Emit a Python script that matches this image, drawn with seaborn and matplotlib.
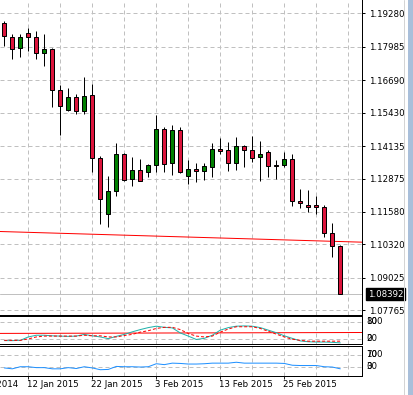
import numpy as np
import pandas as pd
import matplotlib
matplotlib.use("Agg")
import matplotlib.pyplot as plt
import matplotlib.transforms as mtransforms
from matplotlib.patches import Rectangle
from matplotlib.lines import Line2D
import seaborn as sns

# ---------------- data (EUR/USD daily) ----------------
bar_index = list(range(43))
opens = [1.18892, 1.18373, 1.17923, 1.18505, 1.18349, 1.17729, 1.17884, 1.16295, 1.15519, 1.16023,
         1.15480, 1.16101, 1.13658, 1.11487, 1.12379, 1.13825, 1.12844, 1.13193, 1.13115, 1.13387,
         1.14782, 1.13464, 1.14744, 1.12960, 1.13232, 1.13185, 1.13340, 1.14007, 1.13968, 1.13487,
         1.14123, 1.13968, 1.13697, 1.13891, 1.13387, 1.13387, 1.13619, 1.12014, 1.11836, 1.11836,
         1.11758, 1.10750, 1.10246]
highs = [1.18981, 1.18477, 1.18466, 1.18698, 1.18594, 1.18489, 1.17923, 1.16500, 1.16384, 1.16140,
         1.16810, 1.16539, 1.13747, 1.12972, 1.14263, 1.13864, 1.13709, 1.13631, 1.13437, 1.15337,
         1.14872, 1.14949, 1.14872, 1.13581, 1.13476, 1.13464, 1.14251, 1.14445, 1.14278, 1.14484,
         1.14174, 1.14523, 1.14329, 1.13968, 1.13581, 1.13891, 1.13813, 1.12456, 1.12429, 1.12196,
         1.11847, 1.11150, 1.10297]
lows = [1.18012, 1.17508, 1.17597, 1.17830, 1.17508, 1.17248, 1.15659, 1.14573, 1.15492, 1.15387,
        1.15387, 1.13139, 1.11130, 1.10994, 1.12208, 1.12759, 1.12596, 1.12759, 1.12921, 1.13115,
        1.13146, 1.13018, 1.13088, 1.12681, 1.12720, 1.12805, 1.12952, 1.13813, 1.13177, 1.13216,
        1.13332, 1.13526, 1.12790, 1.12945, 1.12867, 1.13321, 1.11820, 1.11743, 1.11588, 1.11510,
        1.10595, 1.09843, 1.08388]
closes = [1.18400, 1.17884, 1.18349, 1.18349, 1.17729, 1.17884, 1.16295, 1.15674, 1.16023, 1.15480,
          1.16062, 1.13658, 1.12068, 1.12390, 1.13825, 1.12817, 1.13193, 1.12797, 1.13387, 1.14782,
          1.13425, 1.14744, 1.13115, 1.13232, 1.13177, 1.13348, 1.14007, 1.13929, 1.13487, 1.14123,
          1.13968, 1.13658, 1.13813, 1.13348, 1.13348, 1.13619, 1.11991, 1.11937, 1.11782, 1.11758,
          1.10750, 1.10246, 1.08392]
current_price = 1.08392
current_price_label = "1.08392"

# red trendline on price chart (two anchor points: bar, price)
trend_bars = [0, 42]
trend_prices = [1.10815, 1.10431]

price_ticks = [1.19280, 1.17985, 1.16690, 1.15430, 1.14135, 1.12875, 1.11580, 1.10320, 1.09025, 1.07765]
price_tick_labels = ["1.19280", "1.17985", "1.16690", "1.15430", "1.14135",
                     "1.12875", "1.11580", "1.10320", "1.09025", "1.07765"]

# stochastic oscillator panel
stoch_main = [13, 13, 14, 26, 32, 32, 30, 29, 28, 29, 35, 30, 26, 20, 28, 35, 44, 52, 59, 64,
              60, 58, 40, 29, 17, 21, 32, 50, 59, 64, 65, 64, 59, 50, 41, 30, 21, 12, 9, 8,
              8, 7, 5]
stoch_signal = [14, 14, 14, 19, 26, 29, 29, 29, 29, 29, 32, 30, 30, 26, 26, 31, 35, 43, 48, 56,
                60, 60, 52, 38, 29, 26, 29, 43, 54, 62, 62, 62, 56, 46, 36, 26, 18, 14, 11, 11,
                11, 11, 11]
stoch_line_bars = [0, 42]
stoch_line_values = [38.5, 41.5]
stoch_levels = [80, 20]
stoch_label_values = [80, 80, 20, 20]
stoch_labels = ["100", "80", "20", "0"]

# RSI panel
rsi_values = [26, 23, 30, 30, 27, 27, 23, 23, 27, 24, 30, 26, 20, 21, 31, 30, 30, 29, 30, 40,
              37, 42, 41, 39, 39, 40, 42, 42, 42, 45, 42, 42, 42, 42, 42, 41, 35, 34, 34, 34,
              30, 29, 23]
rsi_levels = [70, 30]
rsi_label_values = [70, 70, 30, 30]
rsi_labels = ["100", "70", "30", "0"]

# time axis
grid_bars = [-1, 3, 7, 11, 15, 19, 23, 27, 31, 35, 39, 43]
date_bars = [-5, 3, 11, 19, 27, 35]
date_labels = ["31 Dec 2014", "12 Jan 2015", "22 Jan 2015", "3 Feb 2015", "13 Feb 2015", "25 Feb 2015"]

# ---------------- styling ----------------
sns.set_style("white")
plt.rcParams["font.family"] = ["DejaVu Sans"]
plt.rcParams["font.size"] = 6.2

W, H = 414, 395
fig = plt.figure(figsize=(W / 100, H / 100), dpi=100)
fig.patch.set_facecolor("white")


def rect(x0, y0, x1, y1):
    return [x0 / W, (H - y1) / H, (x1 - x0) / W, (y1 - y0) / H]


ax = fig.add_axes(rect(0, 0, 362.5, 314.5))
ax1 = fig.add_axes(rect(0, 316, 362.5, 344.3))
ax2 = fig.add_axes(rect(0, 345.8, 362.5, 375.7))

LW = 0.72
GRID = dict(color="#C0C0C0", lw=LW, ls=(0, (4, 3)))
XLIM = (-0.5375, 44.775)

# ---------------- price panel ----------------
df = pd.DataFrame(dict(bar=bar_index, open=opens, high=highs, low=lows, close=closes))
up = df["close"] > df["open"]
body_colors = np.where(up, "#008000", "#DC143C")
ax.vlines(df["bar"], df["low"], df["high"], color="black", lw=LW, zorder=3)
ax.bar(df["bar"], (df["close"] - df["open"]).abs(), bottom=np.minimum(df["open"], df["close"]),
       width=0.5, color=body_colors, edgecolor="black", linewidth=LW, zorder=4)
ax.axhline(current_price, color="#C0C0C0", lw=LW, zorder=2)
ax.axline((trend_bars[0], trend_prices[0]), (trend_bars[1], trend_prices[1]), color="red", lw=LW, zorder=2)

ax.set_ylim(1.07602, 1.19796)
ax.set_yticks(price_ticks)
ax.set_yticklabels(price_tick_labels)
ax.annotate(current_price_label, xy=(1, current_price), xycoords=("axes fraction", "data"),
            xytext=(5.5, 0), textcoords="offset pixels", ha="left", va="center", color="white",
            fontsize=6.2, annotation_clip=False,
            bbox=dict(boxstyle="square,pad=0.18", fc="black", ec="black"))

# ---------------- stochastic panel ----------------
sns.lineplot(x=bar_index, y=stoch_main, ax=ax1, color="#20B2AA", lw=LW, zorder=3)
sns.lineplot(x=bar_index, y=stoch_signal, ax=ax1, color="red", lw=LW, ls=(0, (3, 2)), zorder=3)
ax1.axline((stoch_line_bars[0], stoch_line_values[0]), (stoch_line_bars[1], stoch_line_values[1]),
           color="red", lw=LW, zorder=2)
ax1.set_ylim(0, 100)
ax1.set_yticks(stoch_levels)
ax1.set_yticklabels([])

# ---------------- RSI panel ----------------
sns.lineplot(x=bar_index, y=rsi_values, ax=ax2, color="#1E90FF", lw=LW, zorder=3)
ax2.set_ylim(0, 100)
ax2.set_yticks(rsi_levels)
ax2.set_yticklabels([])

# overlapping scale labels of the indicator windows
for a, vals, labs in ((ax1, stoch_label_values, stoch_labels), (ax2, rsi_label_values, rsi_labels)):
    tr = mtransforms.offset_copy(mtransforms.blended_transform_factory(a.transAxes, a.transData),
                                 fig=fig, x=3.5, y=0, units="dots")
    for v, lab in zip(vals, labs):
        a.text(1, v, lab, transform=tr, ha="left", va="center", fontsize=6.2, color="black",
               clip_on=False)

# ---------------- common axes styling ----------------
for a in (ax, ax1, ax2):
    a.set_xlim(*XLIM)
    a.set_xlabel("")
    a.set_ylabel("")
    a.set_facecolor("white")
    a.yaxis.tick_right()
    a.tick_params(axis="y", which="major", direction="out", length=3 * 0.72, width=LW,
                  pad=2.2, labelsize=6.2, colors="black", left=False, right=True)
    a.set_xticks([b for b in date_bars if XLIM[0] <= b <= XLIM[1]])
    a.set_xticklabels([])
    a.tick_params(axis="x", which="major", length=0)
    a.grid(False)
    for b in grid_bars:
        a.axvline(b, zorder=1, **GRID)
    for t in a.get_yticks():
        a.axhline(t, zorder=1, **GRID)
    for s in a.spines.values():
        s.set_color("black")
        s.set_linewidth(LW)
    a.spines["left"].set_visible(False)

ax.spines["top"].set_visible(False)
ax1.tick_params(axis="y", length=0)
ax2.tick_params(axis="y", length=0)
ax2.tick_params(axis="x", which="major", direction="out", length=3 * 0.72, width=LW, bottom=True)

# date labels under the last panel (left aligned at the tick)
trans = mtransforms.offset_copy(ax2.get_xaxis_transform(), fig=fig, x=-1.5, y=-4.5, units="dots")
for b, lab in zip(date_bars, date_labels):
    ax2.text(b, 0, lab, transform=trans, ha="left", va="top", fontsize=6.2, color="black",
             clip_on=False)

# window frame on the right
fig.add_artist(Line2D([404.5 / W, 404.5 / W], [0, 1], transform=fig.transFigure, color="#D4D4D4", lw=LW))
fig.add_artist(Rectangle((408 / W, 0), 6 / W, 1, transform=fig.transFigure, color="#A9BFDA", lw=0))

fig.savefig("out.png", dpi=100, facecolor="white")
